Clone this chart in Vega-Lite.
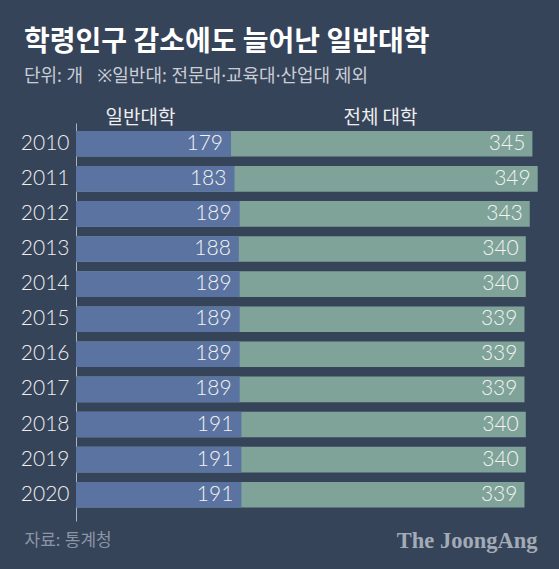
{
  "$schema": "https://vega.github.io/schema/vega-lite/v6.json",
  "background": "#36445a",
  "autosize": "none",
  "padding": {"left": 76, "top": 123, "right": 0, "bottom": 48},
  "width": 483,
  "height": 398,
  "title": {
    "text": "학령인구 감소에도 늘어난 일반대학",
    "subtitle": "단위: 개\u00a0\u00a0\u00a0※일반대: 전문대·교육대·산업대 제외",
    "anchor": "start",
    "frame": "group",
    "dx": -52,
    "offset": 22,
    "font": "Noto Sans CJK KR",
    "fontSize": 28,
    "fontWeight": "bold",
    "color": "#ffffff",
    "subtitleFont": "Noto Sans, Noto Sans CJK KR",
    "subtitleFontSize": 18,
    "subtitleColor": "#c9ced6",
    "subtitlePadding": 11
  },
  "data": {
    "values": [
      {"year": "2010", "general": 179, "total": 345},
      {"year": "2011", "general": 183, "total": 349},
      {"year": "2012", "general": 189, "total": 343},
      {"year": "2013", "general": 188, "total": 340},
      {"year": "2014", "general": 189, "total": 340},
      {"year": "2015", "general": 189, "total": 339},
      {"year": "2016", "general": 189, "total": 339},
      {"year": "2017", "general": 189, "total": 339},
      {"year": "2018", "general": 191, "total": 340},
      {"year": "2019", "general": 191, "total": 340},
      {"year": "2020", "general": 191, "total": 339}
    ]
  },
  "encoding": {
    "y": {
      "field": "year",
      "type": "ordinal",
      "sort": "ascending",
      "scale": {"paddingInner": 0.27, "paddingOuter": 0.305, "align": 0.37},
      "axis": {
        "title": null,
        "ticks": false,
        "labelPadding": 7,
        "labelFont": "Lato",
        "labelFontWeight": 300,
        "labelFontSize": 21,
        "labelColor": "#eeeeee",
        "domainColor": "#aab2bd",
        "domainWidth": 1
      }
    }
  },
  "layer": [
    {
      "mark": {"type": "bar", "color": "#7fa398"},
      "encoding": {
        "x": {
          "field": "total",
          "type": "quantitative",
          "scale": {"domain": [0, 365.1], "nice": false},
          "axis": {
            "orient": "top",
            "labels": false, "ticks": false, "domain": false, "grid": false,
            "title": "전체 대학",
            "titleX": 304, "titleY": -6,
            "titleAlign": "center", "titleBaseline": "middle",
            "titleFont": "Noto Sans CJK KR", "titleFontSize": 19,
            "titleFontWeight": "normal", "titleColor": "#eeeeee"
          }
        }
      }
    },
    {
      "mark": {"type": "text", "align": "right", "baseline": "middle", "dx": -7, "font": "Lato", "fontWeight": 300, "fontSize": 21, "color": "#f4f4f4"},
      "encoding": {
        "x": {
          "field": "total",
          "type": "quantitative",
          "scale": {"domain": [0, 365.1], "nice": false},
          "axis": {
            "orient": "bottom",
            "labels": false, "ticks": false, "domain": false, "grid": false,
            "title": "The JoongAng",
            "titleX": 461, "titleY": 19,
            "titleAlign": "right", "titleBaseline": "middle",
            "titleFont": "Liberation Serif", "titleFontSize": 22.5,
            "titleFontWeight": "bold", "titleColor": "#a3abb7"
          }
        },
        "text": {"field": "total", "type": "quantitative"}
      }
    },
    {
      "mark": {"type": "bar", "color": "#5b73a0"},
      "encoding": {
        "x": {
          "field": "general",
          "type": "quantitative",
          "scale": {"domain": [0, 557.7], "nice": false},
          "axis": {
            "orient": "top",
            "labels": false, "ticks": false, "domain": false, "grid": false,
            "title": "일반대학",
            "titleX": 64, "titleY": -6,
            "titleAlign": "center", "titleBaseline": "middle",
            "titleFont": "Noto Sans CJK KR", "titleFontSize": 19,
            "titleFontWeight": "normal", "titleColor": "#eeeeee"
          }
        }
      }
    },
    {
      "mark": {"type": "text", "align": "right", "baseline": "middle", "dx": -8, "font": "Lato", "fontWeight": 300, "fontSize": 21, "color": "#f4f4f4"},
      "encoding": {
        "x": {
          "field": "general",
          "type": "quantitative",
          "scale": {"domain": [0, 557.7], "nice": false},
          "axis": {
            "orient": "bottom",
            "labels": false, "ticks": false, "domain": false, "grid": false,
            "title": "자료: 통계청",
            "titleX": -52, "titleY": 19,
            "titleAlign": "left", "titleBaseline": "middle",
            "titleFont": "Noto Sans, Noto Sans CJK KR", "titleFontSize": 17,
            "titleFontWeight": "normal", "titleColor": "#8a95a5"
          }
        },
        "text": {"field": "general", "type": "quantitative"}
      }
    }
  ],
  "resolve": {"scale": {"x": "independent"}, "axis": {"x": "independent"}},
  "config": {"view": {"stroke": null}}
}
